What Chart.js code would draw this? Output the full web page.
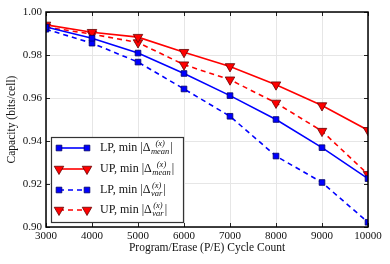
<!DOCTYPE html>
<html>
<head>
<meta charset="utf-8">
<script src="https://cdn.jsdelivr.net/npm/chart.js@4.4.1/dist/chart.umd.min.js"></script>
<style>
  html, body { margin: 0; padding: 0; background: #fff; }
  #wrap { width: 390px; height: 264px; position: relative; }
</style>
</head>
<body>
<div id="wrap"><canvas id="capChart"></canvas></div>
<script>
  "use strict";

  // P/E cycle counts (x axis)
  var peCycles = [3000, 4000, 5000, 6000, 7000, 8000, 9000, 10000];

  // capacity values
  var lpMean = [0.9930, 0.9878, 0.9809, 0.9714, 0.9611, 0.9500, 0.9369, 0.9225];
  var upMean = [0.9940, 0.9906, 0.9883, 0.9813, 0.9747, 0.9662, 0.9565, 0.9450];
  var lpVar  = [0.9920, 0.9855, 0.9767, 0.9642, 0.9515, 0.9330, 0.9207, 0.9022];
  var upVar  = [0.9930, 0.9897, 0.9858, 0.9755, 0.9685, 0.9577, 0.9446, 0.9245];

  var seriesNames = ["LP", "UP", "LP", "UP"];
  var seriesSub = ["mean", "mean", "var", "var"];

  var serif = '"Liberation Serif", "DejaVu Serif", serif';

  function pts(vals) {
    var out = [];
    for (var i = 0; i < peCycles.length; i++) out.push({ x: peCycles[i], y: vals[i] });
    return out;
  }

  function mkSet(vals, color, edge, dashed, tri) {
    return {
      data: pts(vals),
      borderColor: color,
      backgroundColor: color,
      borderWidth: 1.6,
      borderDash: dashed ? [5, 4] : [],
      pointStyle: tri ? "triangle" : "rect",
      rotation: tri ? 180 : 0,
      pointRadius: tri ? 5.5 : 4,
      pointBackgroundColor: color,
      pointBorderColor: edge,
      pointBorderWidth: 0.8,
      tension: 0,
      fill: false
    };
  }

  // frame, inward ticks and the legend with math labels
  var framePlugin = {
    id: "frame",
    afterDatasetsDraw: function (chart) {
      var ctx = chart.ctx, a = chart.chartArea;
      var xs = chart.scales.x, ys = chart.scales.y;
      ctx.save();
      ctx.strokeStyle = "#222";
      ctx.lineWidth = 1;
      xs.ticks.forEach(function (t) {
        var px = Math.round(xs.getPixelForValue(t.value)) + 0.5;
        ctx.beginPath(); ctx.moveTo(px, a.top); ctx.lineTo(px, a.top + 4);
        ctx.moveTo(px, a.bottom); ctx.lineTo(px, a.bottom - 4); ctx.stroke();
      });
      ys.ticks.forEach(function (t) {
        var py = Math.round(ys.getPixelForValue(t.value)) + 0.5;
        ctx.beginPath(); ctx.moveTo(a.left, py); ctx.lineTo(a.left + 4, py);
        ctx.moveTo(a.right, py); ctx.lineTo(a.right - 4, py); ctx.stroke();
      });
      ctx.strokeStyle = "#000";
      ctx.lineWidth = 1.5;
      ctx.strokeRect(a.left, a.top, a.right - a.left, a.bottom - a.top);

      // legend box
      var bx = 51, by = 137, bw = 132, bh = 85;
      ctx.fillStyle = "#fff";
      ctx.fillRect(bx, by, bw, bh);
      ctx.strokeStyle = "#333";
      ctx.lineWidth = 1.2;
      ctx.strokeRect(bx + 0.5, by + 0.5, bw, bh);

      var rowY = [148, 169, 190, 210];
      chart.data.datasets.forEach(function (ds, i) {
        var y = rowY[i];
        ctx.save();
        ctx.strokeStyle = ds.borderColor;
        ctx.lineWidth = 1.6;
        ctx.setLineDash(ds.borderDash);
        ctx.beginPath(); ctx.moveTo(59, y); ctx.lineTo(87, y); ctx.stroke();
        ctx.setLineDash([]);
        ctx.fillStyle = ds.pointBackgroundColor;
        ctx.strokeStyle = ds.pointBorderColor;
        ctx.lineWidth = ds.pointBorderWidth;
        [59, 87].forEach(function (px) {
          Chart.helpers.drawPoint(ctx, {
            pointStyle: ds.pointStyle, rotation: ds.rotation,
            radius: ds.pointRadius, borderWidth: ds.pointBorderWidth
          }, px, y);
        });
        ctx.restore();

        ctx.fillStyle = "#111";
        ctx.textBaseline = "middle";
        ctx.textAlign = "left";
        ctx.font = "12px " + serif;
        var tx = 100;
        var main = seriesNames[i] + ", min |\u0394";
        ctx.fillText(main, tx, y);
        tx += ctx.measureText(main).width + 0.5;
        ctx.font = "italic 8.5px " + serif;
        var wSup = ctx.measureText("(x)").width;
        var wSub = ctx.measureText(seriesSub[i]).width;
        ctx.fillText("(x)", tx + Math.max(0, (wSub - wSup) / 2), y - 4.5);
        ctx.fillText(seriesSub[i], tx, y + 3.5);
        tx += Math.max(wSup, wSub) + 1;
        ctx.font = "12px " + serif;
        ctx.fillText("|", tx, y);
      });
      ctx.restore();
    }
  };

  var ctx = document.getElementById("capChart").getContext("2d");
  new Chart(ctx, {
    type: "line",
    data: {
      datasets: [
        mkSet(lpMean, "#0000ff", "#000066", false, false),
        mkSet(upMean, "#ff0000", "#660000", false, true),
        mkSet(lpVar, "#0000ff", "#000066", true, false),
        mkSet(upVar, "#ff0000", "#660000", true, true)
      ]
    },
    options: {
      responsive: true,
      maintainAspectRatio: false,
      animation: false,
      layout: { padding: { top: 12, right: 22, left: 0, bottom: 0 } },
      plugins: {
        legend: { display: false },
        tooltip: { enabled: false }
      },
      scales: {
        x: {
          type: "linear",
          min: 3000, max: 10000,
          afterFit: function (s) { s.height = 37; },
          afterBuildTicks: function (s) {
            s.ticks = peCycles.map(function (v) { return { value: v }; });
          },
          grid: { color: "#e6e6e6", lineWidth: 1, drawTicks: false },
          border: { display: false },
          ticks: {
            padding: 3,
            color: "#111",
            font: { family: serif, size: 11 },
            maxRotation: 0,
            callback: function (v) { return String(v); }
          },
          title: {
            display: true,
            text: "Program/Erase (P/E) Cycle Count",
            color: "#111",
            font: { family: serif, size: 11.5 },
            padding: { top: 2, bottom: 9 }
          }
        },
        y: {
          min: 0.90, max: 1.00,
          afterFit: function (s) { s.width = 46; },
          grid: { color: "#e6e6e6", lineWidth: 1, drawTicks: false },
          border: { display: false },
          ticks: {
            stepSize: 0.02,
            padding: 4,
            color: "#111",
            font: { family: serif, size: 11 },
            callback: function (v) { return v.toFixed(2); }
          },
          title: {
            display: true,
            text: "Capacity (bits/cell)",
            color: "#111",
            font: { family: serif, size: 11.5 },
            padding: { top: 5, bottom: 0 }
          }
        }
      }
    },
    plugins: [framePlugin]
  });
</script>
</body>
</html>
